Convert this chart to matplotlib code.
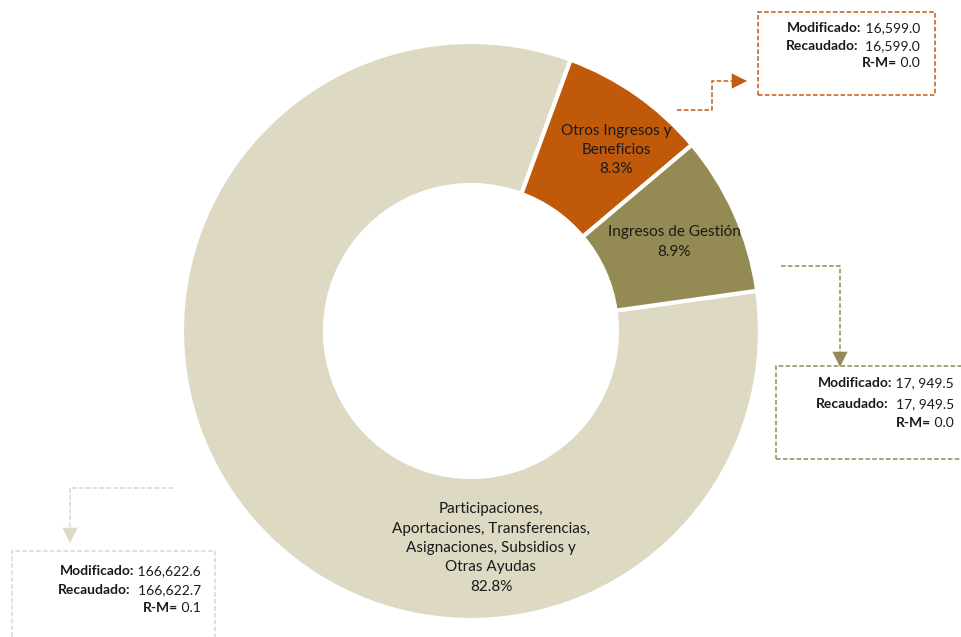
import matplotlib.pyplot as plt
from matplotlib.patches import Rectangle
from matplotlib.offsetbox import TextArea, HPacker, AnnotationBbox

plt.rcParams['font.family'] = ['Lato', 'DejaVu Sans']

# data
categories = ["Participaciones,\nAportaciones, Transferencias,\nAsignaciones, Subsidios y\nOtras Ayudas",
              "Otros Ingresos y\nBeneficios",
              "Ingresos de Gestión"]
modificado = [166622.6, 16599.0, 17949.5]
recaudado = [166622.7, 16599.0, 17949.5]
mod_text = ["166,622.6", "16,599.0", "17, 949.5"]
rec_text = ["166,622.7", "16,599.0", "17, 949.5"]
colors = ["#DDD9C3", "#C0590A", "#948A54"]

W, H = 962, 637
fig = plt.figure(figsize=(W / 100, H / 100), dpi=100)
ax = fig.add_axes([0, 0, 1, 1])

cx, cy = 471, H - 331
R = 289
wedges, _ = ax.pie(recaudado, colors=colors, startangle=8, counterclock=False,
                   center=(cx, cy), radius=R,
                   wedgeprops=dict(width=R - 146, edgecolor="white", linewidth=3))
ax.set_xlim(0, W)
ax.set_ylim(0, H)
ax.set_aspect("equal")
ax.axis("off")

total = sum(recaudado)
pct = [v / total * 100 for v in recaudado]
label_pos = [(491, 548), (616, 150), (674, 242)]
for name, p, (x, y) in zip(categories, pct, label_pos):
    ax.text(x, H - y, f"{name}\n{p:.1f}%", ha="center", va="center",
            fontsize=11, color="#1a1a1a", linespacing=1.48)

line_c = ["#DDD9C3", "#C55A11", "#948A54"]
boxes = [(12, 551, 215, 700), (758, 12, 935, 95), (776, 366, 975, 459)]
text_x = [201, 920, 954]
text_y = [(571, 590, 608), (28, 46, 63), (383, 404, 423)]
arrows = [[(173, 488), (70, 488), (70, 543)],
          [(677, 110), (712, 110), (712, 81), (747, 81)],
          [(781, 266), (840, 266), (840, 367)]]

for i in range(3):
    x0, y0, x1, y1 = boxes[i]
    ax.add_patch(Rectangle((x0, H - y1), x1 - x0, y1 - y0, fill=False,
                           edgecolor=line_c[i], linestyle=(0, (3, 1.5)), linewidth=1.1,
                           clip_on=False))
    rm = recaudado[i] - modificado[i]
    rows = [("Modificado:", " " + mod_text[i]), ("Recaudado:", "  " + rec_text[i]),
            ("R-M=", " " + f"{abs(rm):.1f}")]
    for (lab, val), ty in zip(rows, text_y[i]):
        box = HPacker(children=[
            TextArea(lab, textprops=dict(fontsize=10, fontweight="bold", color="#1a1a1a")),
            TextArea(val, textprops=dict(fontsize=10, color="#1a1a1a"))], sep=0, pad=0, align="baseline")
        ab = AnnotationBbox(box, (text_x[i], H - ty), box_alignment=(1, 0.5), frameon=False, pad=0)
        ax.add_artist(ab)
    pts = arrows[i]
    xs = [p[0] for p in pts]
    ys = [H - p[1] for p in pts]
    # dashed connector, stopping short of the tip
    dx = xs[-1] - xs[-2]
    dy = ys[-1] - ys[-2]
    n = max(abs(dx), abs(dy))
    ux, uy = dx / n, dy / n
    ax.plot(xs[:-1] + [xs[-1] - ux * 8], ys[:-1] + [ys[-1] - uy * 8],
            color=line_c[i], linestyle=(0, (3, 1.5)), linewidth=1.1)
    ax.annotate("", xy=(xs[-1], ys[-1]), xytext=(xs[-1] - ux * 14, ys[-1] - uy * 14),
                arrowprops=dict(arrowstyle="-|>,head_length=0.9,head_width=0.45", color=line_c[i],
                                mutation_scale=12, linewidth=0.1, shrinkA=0, shrinkB=0))

fig.savefig("out.png", dpi=100)
